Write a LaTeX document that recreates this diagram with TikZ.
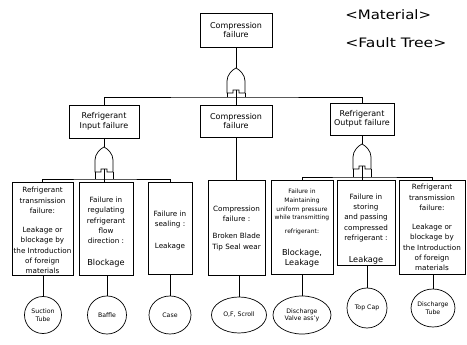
\documentclass[tikz,border=0pt]{standalone}
\usepackage{fontspec}
\setmainfont{DejaVu Sans}
\usepackage{graphicx}
\usetikzlibrary{shapes.geometric}
\tikzset{
  orgate/.pic={
    \draw (0,0) .. controls (4,2) and (9,7) .. (9,13) -- (9,25) -- (3,25) -- (3,22) -- (-3,22) -- (-3,25) -- (-9,25) -- (-9,13) .. controls (-9,7) and (-4,2) .. (0,0) -- cycle;
    \coordinate (-tip) at (0,0);
    \coordinate (-c) at (0,22);
    \coordinate (-bl) at (-9,25);
    \coordinate (-br) at (9,25);
  }
}
\begin{document}
\begin{tikzpicture}[x=1pt,y=-1pt, line width=0.7pt,
  box/.style={draw, rectangle, inner sep=0pt},
  hdr/.style={align=center, font=\fontsize{8}{9.5}\selectfont},
  btxt/.style={align=center, inner sep=0pt, font=\fontsize{7.2}{10.2}\selectfont},
  stxt/.style={align=center, inner sep=0pt, font=\fontsize{6}{8.7}\selectfont},
  bigtxt/.style={align=center, inner sep=0pt, font=\fontsize{8.2}{10.2}\selectfont},
  leaf/.style={draw, ellipse, inner sep=0pt, align=center, font=\fontsize{6.2}{7.4}\selectfont},
  title/.style={anchor=west, inner sep=0pt, font=\fontsize{13}{15}\selectfont}]
\useasboundingbox[fill=white] (0,0) rectangle (467,345);

% titles
\node[title] (mat) at (345,15) {\scalebox{1.15}[1]{<Material>}};
\node[title] (ft) at (345,43) {\scalebox{1.2}[1]{<Fault Tree>}};

% upper boxes
\node[box, hdr, minimum width=72pt, minimum height=34pt] (top) at (236,30) {Compression\\failure};
\node[box, hdr, minimum width=70pt, minimum height=33pt] (inp) at (104,121.5) {Refrigerant\\Input failure};
\node[box, hdr, minimum width=72pt, minimum height=32pt] (mid) at (236,121) {Compression\\failure};
\node[box, hdr, minimum width=64pt, minimum height=32pt] (out) at (362,119) {Refrigerant\\Output failure};

% lower boxes
\node[box, minimum width=61pt, minimum height=93pt] (b1) at (42.5,228.5) {};
\node[box, minimum width=54pt, minimum height=93pt] (b2) at (106,228.5) {};
\node[box, minimum width=44pt, minimum height=92pt] (b3) at (170,228) {};
\node[box, minimum width=57pt, minimum height=95pt] (b4) at (236.5,227.5) {};
\node[box, minimum width=62pt, minimum height=94pt] (b5) at (302,227) {};
\node[box, minimum width=58pt, minimum height=85pt] (b6) at (366,222.5) {};
\node[box, minimum width=66pt, minimum height=94pt] (b7) at (432,227) {};

% texts in lower boxes
\node[btxt] (t1a) at (42.5,200.5) {Refrigerant\\transmission\\failure:};
\node[btxt] (t1b) at (42.5,250.5) {Leakage or\\blockage by\\the Introduction\\of foreign\\materials};
\node[btxt] (t2a) at (106,220.5) {Failure in\\regulating\\refrigerant\\flow\\direction :};
\node[bigtxt] (t2b) at (106,263) {Blockage};
\node[btxt] (t3a) at (170,219.5) {Failure in\\sealing :};
\node[btxt] (t3b) at (170,247) {Leakage};
\node[btxt] (t4a) at (236.5,213.5) {Compression\\failure :};
\node[btxt] (t4b) at (236.5,242) {Broken Blade\\Tip Seal wear};
\node[stxt] (t5a) at (302,205) {Failure in\\Maintaining\\uniform pressure\\while transmitting};
\node[stxt] (t5c) at (302,232) {refrigerant:};
\node[bigtxt] (t5b) at (302,258) {Blockage,\\Leakage};
\node[btxt] (t6a) at (366,218) {Failure in\\storing\\and passing\\compressed\\refrigerant :};
\node[bigtxt] (t6b) at (366,260) {Leakage};
\node[btxt] (t7a) at (432,197.5) {Refrigerant\\transmission\\failure:};
\node[btxt] (t7b) at (432,247.5) {Leakage or\\blockage by\\the Introduction\\of foreign\\materials};

% leaves
\node[leaf, minimum width=37pt, minimum height=37pt] (l1) at (43,315) {Suction\\Tube};
\node[leaf, minimum width=39pt, minimum height=38pt] (l2) at (107,315) {Baffle};
\node[leaf, minimum width=42pt, minimum height=38pt] (l3) at (170,315) {Case};
\node[leaf, minimum width=55pt, minimum height=36pt] (l4) at (239,315) {O,F, Scroll};
\node[leaf, minimum width=58pt, minimum height=38pt] (l5) at (302,315) {Discharge\\Valve ass'y};
\node[leaf, minimum width=40pt, minimum height=40pt] (l6) at (367,308) {Top Cap};
\node[leaf, minimum width=40pt, minimum height=38pt] (l7) at (433,308) {Discharge\\Tube};

% top gate
\pic (g0) at (236,68) {orgate};
\coordinate (bus0) at (236,97);
\draw (top.south) -- (g0-tip);
\draw (inp.north) |- (bus0) -| (out.north);
\draw (g0-bl) -- (g0-bl |- bus0);
\draw (g0-br) -- (g0-br |- bus0);
\draw (g0-c) -- (mid.north);

% left gate
\pic (g1) at (104,147) {orgate};
\coordinate (bus1) at (104,179);
\draw (inp.south) -- (g1-tip);
\draw (b1.north) |- (bus1) -| (b3.north);
\draw (g1-bl) -- (g1-bl |- bus1);
\draw (g1-br) -- (g1-br |- bus1);
\draw (g1-c) -- (g1-c |- b2.north);

% right gate
\pic (g2) at (362,144) {orgate};
\coordinate (bus2) at (362,177);
\draw (out.south) -- (g2-tip);
\draw (b5.north) |- (bus2) -| (b7.north);
\draw (g2-bl) -- (g2-bl |- bus2);
\draw (g2-br) -- (g2-br |- bus2);
\draw (g2-c) -- (g2-c |- b6.north);

% middle branch
\draw (mid.south) -- (mid.south |- b4.north);

% boxes to leaves
\draw (b1.south -| l1.north) -- (l1.north);
\draw (b2.south -| l2.north) -- (l2.north);
\draw (b3.south -| l3.north) -- (l3.north);
\draw (b4.south -| l4.north) -- (l4.north);
\draw (b5.south) -- (l5.north);
\draw (b6.south -| l6.north) -- (l6.north);
\draw (b7.south -| l7.north) -- (l7.north);
\end{tikzpicture}
\end{document}
